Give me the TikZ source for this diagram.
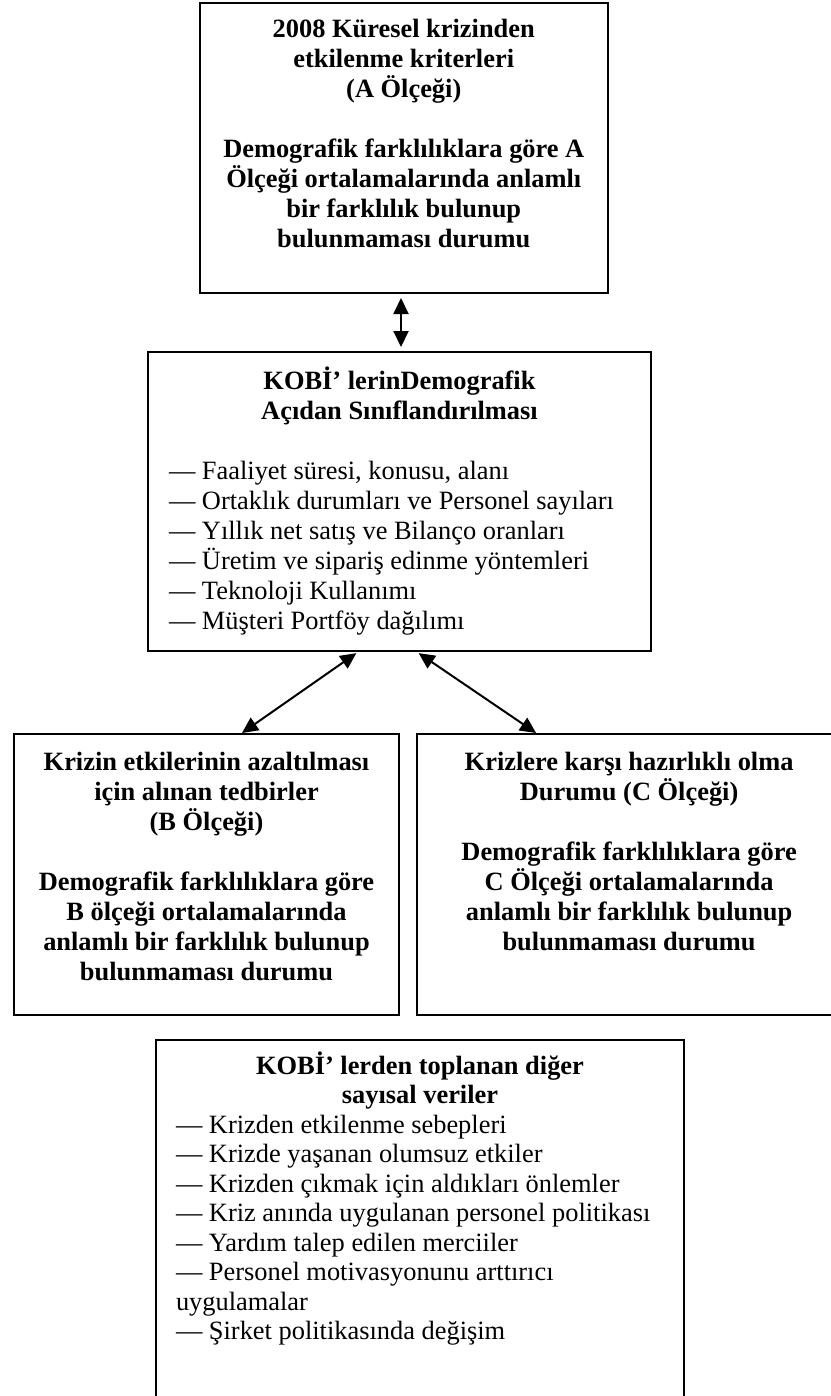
\documentclass[tikz,border=0pt]{standalone}
\usepackage{fontspec}
\setmainfont{Liberation Serif}
\usepackage{tikz}
\usetikzlibrary{arrows.meta}

\tikzset{
  kutu/.style={draw, line width=1pt, inner sep=0pt, anchor=north west,
    font=\fontsize{13.2pt}{15pt}\selectfont},
  ok/.style={{Triangle[length=8pt,width=7.5pt]}-{Triangle[length=8pt,width=7.5pt]}, line width=1pt}
}

\begin{document}
\begin{tikzpicture}[x=0.5pt, y=-0.5pt]
  \useasboundingbox (0,0) rectangle (830,1396);
  % A olcegi
  \node[kutu] (kutuA) at (198.5,2.5) {\parbox[t][144.75pt][t]{204.25pt}{\centering\bfseries
      \rule{0pt}{17.25pt}2008 Küresel krizinden\\ etkilenme kriterleri\\ (A Ölçeği)\\[15pt]
      Demografik farklılıklara göre A\\ Ölçeği ortalamalarında anlamlı\\
      bir farklılık bulunup\\ bulunmaması durumu\par}};
  % demografik siniflandirma
  \node[kutu] (kobi) at (147,351) {\parbox[t][149.5pt][t]{251.5pt}{%
      {\centering\bfseries\rule{0pt}{18.5pt}KOBİ’ lerinDemografik\\ Açıdan Sınıflandırılması\par}
      \vspace{15pt}
      {\raggedright\leftskip=10.5pt
      — Faaliyet süresi, konusu, alanı\\
      — Ortaklık durumları ve Personel sayıları\\
      — Yıllık net satış ve Bilanço oranları\\
      — Üretim ve sipariş edinme yöntemleri\\
      — Teknoloji Kullanımı\\
      — Müşteri Portföy dağılımı\par}}};
  % B ve C olcekleri
  \node[kutu] (kutuB) at (13,733) {\parbox[t][140.5pt][t]{192.5pt}{\centering\bfseries
      \rule{0pt}{18pt}Krizin etkilerinin azaltılması\\ için alınan tedbirler\\ (B Ölçeği)\\[15pt]
      Demografik farklılıklara göre\\ B ölçeği ortalamalarında\\
      anlamlı bir farklılık bulunup\\ bulunmaması durumu\par}};
  \node[kutu] (kutuC) at (415.6,733) {\parbox[t][140.5pt][t]{212.5pt}{\centering\bfseries
      \rule{0pt}{18pt}Krizlere karşı hazırlıklı olma\\ Durumu (C Ölçeği)\\[15pt]
      Demografik farklılıklara göre\\ C Ölçeği ortalamalarında\\
      anlamlı bir farklılık bulunup\\ bulunmaması durumu\par}};
  % diger veriler
  \node[kutu] (veriler) at (155,1039) {\parbox[t][200pt][t]{264pt}{\fontsize{13.2pt}{14.75pt}\selectfont
      {\centering\bfseries\rule{0pt}{17pt}KOBİ’ lerden toplanan diğer\\ sayısal veriler\par}
      {\raggedright\leftskip=10pt
      — Krizden etkilenme sebepleri\\
      — Krizde yaşanan olumsuz etkiler\\
      — Krizden çıkmak için aldıkları önlemler\\
      — Kriz anında uygulanan personel politikası\\
      — Yardım talep edilen merciiler\\
      — Personel motivasyonunu arttırıcı\\
      uygulamalar\\
      — Şirket politikasında değişim\par}}};

  \draw[ok, shorten <=2pt, shorten >=2pt] ([xshift=0.75pt]kobi.north) -- ([xshift=0.75pt]kobi.north |- kutuA.south);
  \draw[ok, shorten <=1pt] ([xshift=-20.75pt]kobi.south) -- ([xshift=17.75pt]kutuB.north);
  \draw[ok, shorten <=1pt] ([xshift=8.75pt]kobi.south) -- ([xshift=-46.5pt]kutuC.north);
\end{tikzpicture}
\end{document}
